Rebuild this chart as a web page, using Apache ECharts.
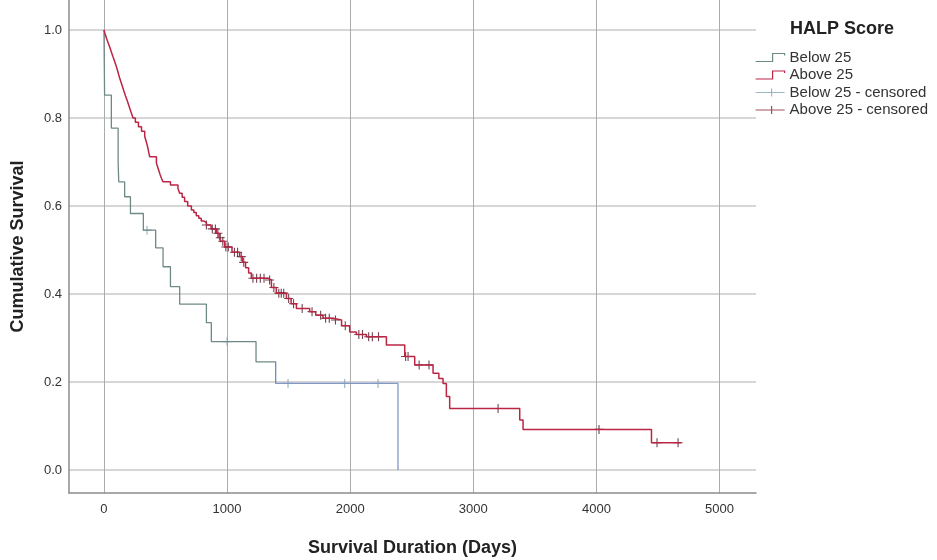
<!DOCTYPE html>
<html>
<head>
<meta charset="utf-8">
<script src="https://cdn.jsdelivr.net/npm/echarts@6/dist/echarts.min.js"></script>
<style>
  html, body { margin: 0; padding: 0; background: #fff; }
  #chart { width: 937px; height: 560px; }
</style>
</head>
<body>
<div id="chart"></div>
<script>
// Kaplan-Meier steps (days, cumulative survival)
var belowDays = [0, 5, 60, 115, 120, 168, 215, 320, 420, 480, 540, 615, 832, 872, 1235, 1395, 2388];
var belowSurv = [1.0, 0.852, 0.777, 0.70, 0.655, 0.621, 0.583, 0.545, 0.505, 0.462, 0.417, 0.377, 0.335, 0.292, 0.246, 0.197, 0.0];

var aboveDays = [0, 10, 22, 35, 48, 60, 72, 85, 97, 108, 118, 128, 140, 152, 163, 175, 188, 200, 212, 224,
  236, 255, 280, 305, 331, 345, 358, 371, 426, 440, 455, 467, 479, 540, 601, 615, 635, 655, 680, 710, 730,
  750, 770, 790, 810, 832, 870, 913, 935, 950, 980, 1040, 1102, 1125, 1150, 1175, 1197, 1332, 1360, 1400, 1482,
  1520, 1563, 1671, 1720, 1779, 1860, 1930, 1996, 2050, 2132, 2294, 2443, 2524, 2673, 2720, 2754, 2781, 2808,
  3377, 3404, 4447, 4690];
var aboveSurv = [1.0, 0.99, 0.98, 0.97, 0.96, 0.95, 0.94, 0.93, 0.92, 0.91, 0.90, 0.89, 0.88, 0.87, 0.86, 0.85, 0.84, 0.83, 0.82, 0.81,
  0.80, 0.79, 0.78, 0.77, 0.758, 0.745, 0.73, 0.712, 0.697, 0.685, 0.672, 0.663, 0.655, 0.648, 0.640, 0.629, 0.62, 0.61, 0.60, 0.591, 0.585,
  0.578, 0.572, 0.566, 0.562, 0.557, 0.548, 0.538, 0.528, 0.52, 0.507, 0.495, 0.485, 0.472, 0.46, 0.448, 0.436, 0.432, 0.415, 0.402, 0.390,
  0.378, 0.367, 0.360, 0.352, 0.345, 0.341, 0.328, 0.314, 0.308, 0.303, 0.284, 0.258, 0.239, 0.220, 0.208, 0.197, 0.167, 0.140,
  0.114, 0.0925, 0.062, 0.062];

// censored cases
var belowCensDays = [350, 1000, 1495, 1955, 2226];
var belowCensSurv = [0.545, 0.292, 0.197, 0.197, 0.197];

var aboveCensDays = [832, 880, 905, 925, 945, 965, 990, 1010, 1060, 1085, 1115, 1135, 1210, 1240, 1270, 1300, 1345, 1380,
  1420, 1440, 1460, 1500, 1540, 1610, 1690, 1760, 1800, 1830, 1880, 1960, 2070, 2100, 2150, 2180, 2230, 2450, 2470,
  2560, 2640, 3201, 4021, 4492, 4663];
var aboveCensSurv = [0.557, 0.548, 0.548, 0.538, 0.528, 0.52, 0.507, 0.507, 0.495, 0.495, 0.485, 0.472, 0.436, 0.436, 0.436, 0.436, 0.432, 0.415,
  0.402, 0.402, 0.402, 0.390, 0.378, 0.367, 0.360, 0.352, 0.345, 0.345, 0.341, 0.328, 0.308, 0.308, 0.303, 0.303, 0.303, 0.258, 0.258,
  0.239, 0.239, 0.140, 0.0925, 0.062, 0.062];

var xTicks = [0, 1000, 2000, 3000, 4000, 5000];
var yTicks = [0, 0.2, 0.4, 0.6, 0.8, 1.0];

var zip = (xs, ys) => xs.map((x, i) => [x, ys[i]]);

var RED = '#bc2444';
var TEAL = '#6e8a86';
var CENS_B = '#86a6b4';
var CENS_A = '#4a1826';

var stepIcon = 'path://M0,8 H17 V0 H29 V2';
var censIcon = 'path://M0,4 H29 M16,0 V8';

var chart = echarts.init(document.getElementById('chart'));

var option = {
  animation: false,
  title: {
    text: 'HALP Score',
    left: 785,
    top: 15,
    textStyle: { fontFamily: 'Liberation Sans', fontSize: 18, fontWeight: 'bold', color: '#222' }
  },
  legend: {
    orient: 'vertical',
    left: 750,
    top: 45,
    itemWidth: 29,
    itemHeight: 8,
    itemGap: 2.5,
    textStyle: { fontFamily: 'Liberation Sans', fontSize: 15, color: '#333' },
    data: [
      { name: 'Below 25', icon: stepIcon, itemStyle: { color: 'transparent', borderColor: TEAL, borderWidth: 1.2 } },
      { name: 'Above 25', icon: stepIcon, itemStyle: { color: 'transparent', borderColor: RED, borderWidth: 1.2 } },
      { name: 'Below 25 - censored', icon: censIcon, itemStyle: { color: 'transparent', borderColor: CENS_B, borderWidth: 1.2 } },
      { name: 'Above 25 - censored', icon: censIcon, itemStyle: { color: 'transparent', borderColor: '#8a2038', borderWidth: 1.2 } }
    ]
  },
  grid: { left: 69, right: 181, top: 0, bottom: 67, outerBoundsMode: 'none' },
  visualMap: {
    show: false,
    type: 'piecewise',
    seriesIndex: 0,
    dimension: 0,
    pieces: [
      { min: -300, max: 1395, color: TEAL },
      { min: 1395, max: 5300, color: '#8198c8' }
    ]
  },
  xAxis: {
    type: 'value',
    min: -284,
    max: 5296,
    name: 'Survival Duration (Days)',
    nameLocation: 'middle',
    nameGap: 46,
    nameTextStyle: { fontFamily: 'Liberation Sans', fontSize: 18, fontWeight: 'bold', color: '#222' },
    axisLine: { show: true, onZero: false, lineStyle: { color: '#8c8c8c', width: 1.5 } },
    axisTick: { show: false, customValues: xTicks },
    axisLabel: {
      customValues: xTicks, margin: 10, fontFamily: 'Liberation Sans', fontSize: 13, color: '#333',
      formatter: (v) => String(v)
    },
    splitLine: { show: true, lineStyle: { color: '#ababab', width: 1 } }
  },
  yAxis: {
    type: 'value',
    min: -0.052,
    max: 1.068,
    name: 'Cumulative Survival',
    nameLocation: 'middle',
    nameGap: 42,
    nameTextStyle: { fontFamily: 'Liberation Sans', fontSize: 18, fontWeight: 'bold', color: '#222' },
    axisLine: { show: true, onZero: false, lineStyle: { color: '#8c8c8c', width: 1.5 } },
    axisTick: { show: false, customValues: yTicks },
    axisLabel: {
      customValues: yTicks, margin: 7, fontFamily: 'Liberation Sans', fontSize: 13, color: '#333',
      formatter: (v) => v.toFixed(1)
    },
    splitLine: { show: true, lineStyle: { color: '#c8c8c8', width: 1.5 } }
  },
  series: [
    {
      name: 'Below 25',
      type: 'line',
      step: 'end',
      showSymbol: false,
      color: TEAL,
      lineStyle: { width: 1.3 },
      data: zip(belowDays, belowSurv)
    },
    {
      name: 'Above 25',
      type: 'line',
      step: 'end',
      showSymbol: false,
      color: RED,
      lineStyle: { width: 1.5 },
      data: zip(aboveDays, aboveSurv)
    },
    {
      name: 'Below 25 - censored',
      type: 'scatter',
      symbol: 'path://M5,0 V10 M0,5 H10',
      symbolSize: [9, 9],
      itemStyle: { color: 'transparent', borderColor: CENS_B, borderWidth: 1.2 },
      data: zip(belowCensDays, belowCensSurv)
    },
    {
      name: 'Above 25 - censored',
      type: 'scatter',
      symbol: 'path://M5,0 V10 M0,5 H10',
      symbolSize: [9, 9],
      itemStyle: { color: 'transparent', borderColor: CENS_A, borderWidth: 1.1 },
      data: zip(aboveCensDays, aboveCensSurv)
    }
  ]
};

chart.setOption(option);
</script>
</body>
</html>
